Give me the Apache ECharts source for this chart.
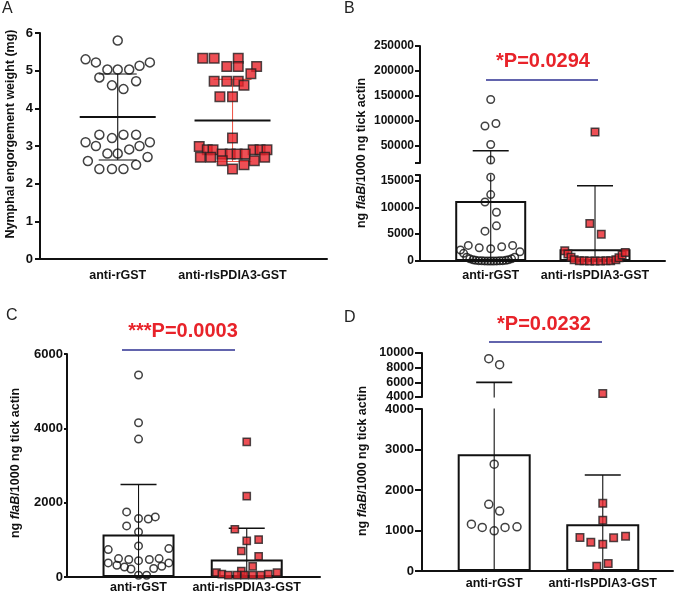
<!DOCTYPE html>
<html>
<head>
<meta charset="utf-8">
<style>
  html, body { margin: 0; padding: 0; background: #fff; }
  #chart { width: 675px; height: 597px; }
</style>
<script src="https://cdn.jsdelivr.net/npm/echarts@6/dist/echarts.min.js"></script>
</head>
<body>
<div id="chart"></div>
<script>
const categories = ['anti-rGST', 'anti-rIsPDIA3-GST'];

// A: nymphal engorgement weight (mg), points are [x position, value]
const aGstPoints = [
  [1.00, 5.8], [0.72, 5.3], [0.81, 5.22], [0.91, 5.03], [1.00, 5.03], [1.10, 5.03],
  [1.19, 5.13], [1.28, 5.22], [0.84, 4.82], [1.16, 4.72], [0.95, 4.61], [1.05, 4.51],
  [0.84, 3.30], [1.05, 3.30], [1.16, 3.30], [0.95, 3.21], [0.72, 3.10], [1.28, 3.10],
  [0.81, 3.00], [1.19, 3.00], [1.10, 2.91], [0.91, 2.80], [1.00, 2.80], [0.74, 2.60],
  [1.26, 2.71], [0.84, 2.39], [0.95, 2.39], [1.05, 2.39], [1.16, 2.50]
];
const aPdiaPoints = [
  [1.74, 5.33], [1.84, 5.33], [2.05, 5.33], [1.95, 5.11], [2.05, 5.11], [2.21, 5.11],
  [2.16, 4.92], [1.84, 4.72], [1.95, 4.72], [2.05, 4.72], [2.10, 4.61], [1.89, 4.31],
  [2.00, 4.31], [2.00, 3.21], [1.71, 2.99], [1.78, 2.90], [1.83, 2.90], [2.18, 2.90],
  [2.24, 2.90], [2.30, 2.90], [1.91, 2.79], [1.98, 2.79], [2.04, 2.79], [2.11, 2.79],
  [1.72, 2.70], [1.81, 2.70], [2.28, 2.70], [1.91, 2.61], [2.19, 2.61], [2.10, 2.50],
  [2.00, 2.39]
];
const aMeans = [3.77, 3.68];
const aSdLow = [2.63, 2.59];
const aSdHigh = [4.91, 4.77];

// B: ng flaB / 1000 ng tick actin (broken axis)
const bGstPoints = [
  [1.00, 143000], [0.945, 90000], [1.05, 95000], [1.00, 53000], [1.00, 22000],
  [1.00, 15600], [1.00, 12350], [0.945, 10980], [1.055, 9070], [1.055, 6540], [0.945, 5556],
  [0.785, 2900], [0.89, 2460], [1.00, 2280], [1.105, 2650], [1.21, 2900], [0.71, 2040],
  [1.28, 1720], [0.74, 1420],
  [0.77, 700], [0.80, 400], [0.83, 220], [0.855, 120], [0.885, 60], [0.914, 30], [0.942, 15],
  [0.971, 8], [1.00, 5], [1.029, 8], [1.058, 15], [1.086, 30], [1.115, 60], [1.145, 120],
  [1.17, 220], [1.20, 400], [1.23, 700]
];
const bPdiaPoints = [
  [2.00, 78000], [1.95, 6980], [2.06, 5000],
  [1.71, 1900], [1.74, 1300], [1.77, 700], [1.80, 250], [1.85, 60], [1.895, 30], [1.947, 20],
  [2.00, 20], [2.053, 20], [2.105, 30], [2.15, 60], [2.20, 250], [2.23, 600], [2.26, 1100],
  [2.29, 1600]
];
const bMeans = [11170, 2170];
const bErrHigh = [40600, 14000];
const bBreak = 16000;
const bLowerTicks = [0, 5000, 10000, 15000];
const bUpperTicks = [50000, 100000, 150000, 200000, 250000];

// C
const cGstPoints = [
  [1.00, 5436], [1.00, 4151], [1.00, 3711], [0.89, 1752], [1.155, 1617], [1.00, 1573],
  [1.09, 1560], [0.89, 1375], [1.00, 1213], [1.00, 836], [0.72, 738], [1.28, 765],
  [0.815, 495], [0.91, 470], [1.00, 440], [1.10, 470], [1.19, 495], [0.72, 380],
  [1.28, 380], [0.80, 315], [0.87, 270], [0.93, 216], [1.14, 230], [1.215, 290],
  [1.00, 46], [1.075, 46]
];
const cPdiaPoints = [
  [2.00, 3638], [2.00, 2175], [1.89, 1285], [2.00, 970], [2.11, 1008], [1.95, 700],
  [2.11, 558], [2.055, 288], [1.95, 162], [1.72, 120], [1.77, 80], [1.83, 50],
  [1.91, 50], [1.98, 50], [2.055, 50], [2.13, 50], [2.20, 80], [2.28, 120]
];
const cMeans = [1143, 469];
const cErrHigh = [2490, 1313];

// D (broken axis)
const dGstPoints = [
  [0.95, 9224], [1.05, 8408], [1.00, 2637], [0.95, 1646], [1.05, 1480], [0.79, 1157],
  [0.89, 1075], [1.00, 991], [1.10, 1075], [1.21, 1090]
];
const dPdiaPoints = [
  [2.00, 4463], [2.00, 1670], [2.00, 1256], [1.79, 827], [1.89, 711], [2.00, 662],
  [2.10, 818], [2.21, 860], [1.945, 116], [2.05, 183]
];
const dMeans = [2885, 1157];
const dErrHigh = [6000, 2372];
const dBreak = 4000;

const pLabels = ['*P=0.0294', '***P=0.0003', '*P=0.0232'];

const FONT = '"Liberation Sans", Arial, Helvetica, sans-serif';
const INK = '#111';
const RED = '#e8232a';
const PINK = '#ef5a4c';
const BLUE = '#2e3192';

function xAxisFor(gridIndex, min, max, show, margin) {
  return {
    type: 'value', gridIndex, min, max, show,
    axisLine: { show: true, onZero: false, lineStyle: { color: INK, width: 2 } },
    axisTick: { show: false },
    splitLine: { show: false },
    axisLabel: {
      customValues: [1, 2],
      formatter: v => categories[Math.round(v) - 1] || '',
      color: INK, fontWeight: 'bold', fontSize: 12.5, fontFamily: FONT, margin
    }
  };
}

function yAxisFor(gridIndex, min, max, o) {
  const ax = {
    type: 'value', gridIndex, min, max,
    axisLine: { show: true, lineStyle: { color: INK, width: 2 } },
    axisTick: { show: true, length: o.tickLen, lineStyle: { color: INK, width: 2 } },
    splitLine: { show: false },
    axisLabel: {
      color: INK, fontWeight: 'bold', fontSize: o.fontSize, fontFamily: FONT,
      margin: o.margin, formatter: v => String(v)
    }
  };
  if (o.interval) ax.interval = o.interval;
  if (o.labels) ax.axisLabel.customValues = o.labels;
  if (o.ticks) ax.axisTick.customValues = o.ticks;
  return ax;
}

function circles(xi, yi, data, size) {
  return {
    type: 'scatter', xAxisIndex: xi, yAxisIndex: yi, data, symbol: 'circle', symbolSize: size,
    itemStyle: { color: 'rgba(255,255,255,0)', borderColor: INK, borderWidth: 1.5 },
    silent: true, z: 5
  };
}

function squares(xi, yi, data, size) {
  return {
    type: 'scatter', xAxisIndex: xi, yAxisIndex: yi, data, symbol: 'rect', symbolSize: size,
    itemStyle: { color: RED, borderColor: '#231f20', borderWidth: 1.5 },
    silent: true, z: 5
  };
}

function bars(xi, yi, means, width) {
  return {
    type: 'bar', xAxisIndex: xi, yAxisIndex: yi, barWidth: width,
    data: means.map((m, i) => [i + 1, m]),
    itemStyle: { color: '#fff', borderColor: INK, borderWidth: 2 },
    silent: true, z: 2
  };
}

// items: [x, mean, low, high]
function errors(xi, yi, items, o) {
  return {
    type: 'custom', xAxisIndex: xi, yAxisIndex: yi, data: items, silent: true, z: 4,
    renderItem: (params, api) => {
      const cs = params.coordSys;
      const x = api.value(0);
      const mid = api.coord([x, api.value(1)]);
      const bot = api.coord([x, api.value(2)]);
      const top = api.coord([x, api.value(3)]);
      const y0 = cs.y - 0.5, y1 = cs.y + cs.height + 0.5;
      const color = o.colors[params.dataIndex];
      const inside = y => y >= y0 && y <= y1;
      const kids = [];
      const a = Math.max(top[1], y0), b = Math.min(bot[1], y1);
      if (b > a) kids.push({ type: 'line', shape: { x1: top[0], y1: a, x2: top[0], y2: b },
        style: { stroke: color, lineWidth: o.stem } });
      if (inside(top[1])) kids.push({ type: 'line',
        shape: { x1: top[0] - o.cap, y1: top[1], x2: top[0] + o.cap, y2: top[1] },
        style: { stroke: color, lineWidth: o.capWidth } });
      if (o.lowCap && inside(bot[1])) kids.push({ type: 'line',
        shape: { x1: bot[0] - o.cap, y1: bot[1], x2: bot[0] + o.cap, y2: bot[1] },
        style: { stroke: color, lineWidth: o.capWidth } });
      if (o.meanHalf && inside(mid[1])) kids.push({ type: 'line',
        shape: { x1: mid[0] - o.meanHalf, y1: mid[1], x2: mid[0] + o.meanHalf, y2: mid[1] },
        style: { stroke: INK, lineWidth: 2 } });
      return { type: 'group', children: kids };
    }
  };
}

const up = (pts, brk) => pts.filter(p => p[1] >= brk);
const low = (pts, brk) => pts.filter(p => p[1] < brk);

const grids = [
  { left: 40, top: 33, width: 287, height: 226 },   // A
  { left: 420, top: 46, width: 245, height: 117 },  // B upper
  { left: 420, top: 175, width: 245, height: 86 },  // B lower
  { left: 67, top: 354, width: 253, height: 223 },  // C
  { left: 422, top: 353, width: 251, height: 44 },  // D upper
  { left: 422, top: 409, width: 251, height: 162 }  // D lower
].map(g => Object.assign({ outerBoundsMode: 'none' }, g));

const xAxes = [
  xAxisFor(0, 0.323, 2.823, true, 10),
  xAxisFor(1, 0.322, 2.671, false, 8),
  xAxisFor(2, 0.322, 2.671, true, 8.5),
  xAxisFor(3, 0.339, 2.677, true, 4.5),
  xAxisFor(4, 0.335, 2.647, false, 6),
  xAxisFor(5, 0.335, 2.647, true, 6.5)
];

const yAxes = [
  yAxisFor(0, 0, 6, { interval: 1, fontSize: 13, margin: 7, tickLen: 5 }),
  yAxisFor(1, bBreak, 250000, { labels: bUpperTicks, ticks: [bBreak].concat(bUpperTicks), fontSize: 12, margin: 6, tickLen: 5 }),
  yAxisFor(2, 0, bBreak, { labels: bLowerTicks, ticks: bLowerTicks.concat([bBreak]), fontSize: 12, margin: 6, tickLen: 5 }),
  yAxisFor(3, 0, 6000, { interval: 2000, fontSize: 13, margin: 4, tickLen: 3 }),
  yAxisFor(4, dBreak, 10000, { interval: 2000, fontSize: 12.5, margin: 8, tickLen: 7 }),
  yAxisFor(5, 0, dBreak, { interval: 1000, fontSize: 13, margin: 8, tickLen: 7 })
];

const stemOpt = { colors: [INK, INK], stem: 1.1, cap: 18, capWidth: 1.6 };
const bErr = bMeans.map((m, i) => [i + 1, m, 0, bErrHigh[i]]);
const dErr = dMeans.map((m, i) => [i + 1, m, 0, dErrHigh[i]]);

const series = [
  // A
  errors(0, 0, aMeans.map((m, i) => [i + 1, m, aSdLow[i], aSdHigh[i]]),
    { colors: [INK, PINK], stem: 1.1, cap: 19, capWidth: 1.1, lowCap: true, meanHalf: 38 }),
  circles(0, 0, aGstPoints, 9),
  squares(0, 0, aPdiaPoints, 9.5),
  // B
  bars(2, 2, bMeans, 71),
  errors(1, 1, bErr, stemOpt),
  errors(2, 2, bErr, stemOpt),
  circles(1, 1, up(bGstPoints, bBreak), 7.5),
  circles(2, 2, low(bGstPoints, bBreak), 7.5),
  squares(1, 1, up(bPdiaPoints, bBreak), 7.5),
  squares(2, 2, low(bPdiaPoints, bBreak), 7.5),
  // C
  bars(3, 3, cMeans, 72),
  errors(3, 3, cMeans.map((m, i) => [i + 1, m, 0, cErrHigh[i]]), stemOpt),
  circles(3, 3, cGstPoints, 7.5),
  squares(3, 3, cPdiaPoints, 7.2),
  // D
  bars(5, 5, dMeans, 73),
  errors(4, 4, dErr, stemOpt),
  errors(5, 5, dErr, stemOpt),
  circles(4, 4, up(dGstPoints, dBreak), 8),
  circles(5, 5, low(dGstPoints, dBreak), 8),
  squares(4, 4, up(dPdiaPoints, dBreak), 7.5),
  squares(5, 5, low(dPdiaPoints, dBreak), 7.5)
];

function letter(t, x, y) {
  return { type: 'text', x, y, silent: true,
    style: { text: t, fill: '#222', font: '16px ' + FONT, textAlign: 'left', textVerticalAlign: 'top' } };
}
function axisName(x, y, italic) {
  const rich = {
    n: { fontSize: 12.5, fontWeight: 'bold', fontFamily: FONT, fill: INK },
    i: { fontSize: 12.5, fontWeight: 'bold', fontStyle: 'italic', fontFamily: FONT, fill: INK }
  };
  const text = italic ? '{n|ng }{i|flaB}{n|/1000 ng tick actin}' : '{n|Nymphal engorgement weight (mg)}';
  return { type: 'text', x, y, rotation: Math.PI / 2, silent: true,
    style: { text, rich, textAlign: 'center', textVerticalAlign: 'middle', align: 'center', verticalAlign: 'middle' } };
}
function pText(t, x, y) {
  return { type: 'text', x, y, silent: true,
    style: { text: t, fill: RED, font: 'bold 20px ' + FONT, textAlign: 'center', textVerticalAlign: 'middle',
      align: 'center', verticalAlign: 'middle' } };
}
function blueLine(x1, x2, y) {
  return { type: 'line', silent: true, shape: { x1, y1: y, x2, y2: y }, style: { stroke: BLUE, lineWidth: 1.5 } };
}

const chart = echarts.init(document.getElementById('chart'), null, { renderer: 'canvas' });
chart.setOption({
  animation: false,
  backgroundColor: '#fff',
  grid: grids,
  xAxis: xAxes,
  yAxis: yAxes,
  series,
  graphic: [
    letter('A', 2, 1), letter('B', 344, 1), letter('C', 6, 308), letter('D', 344, 310),
    axisName(11, 134, false), axisName(362, 153, true),
    axisName(16, 463, true), axisName(363, 461, true),
    pText(pLabels[0], 543, 61), pText(pLabels[1], 183, 331), pText(pLabels[2], 544, 324),
    blueLine(486, 598, 80), blueLine(122, 235, 350), blueLine(489, 602, 342)
  ]
});
</script>
</body>
</html>
